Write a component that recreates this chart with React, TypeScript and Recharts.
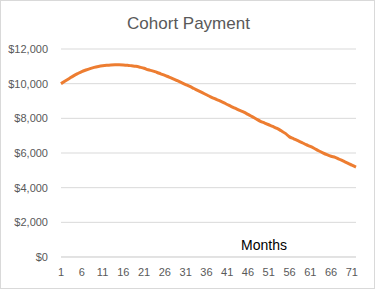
import React from 'react';
import { LineChart, Line, XAxis, YAxis, CartesianGrid } from 'recharts';

// months 1..72 and the payment
const months: number[] = [
  1, 2, 3, 4, 5, 6, 7, 8, 9, 10, 11, 12, 13, 14, 15, 16, 17, 18, 19, 20, 21, 22, 23, 24,
  25, 26, 27, 28, 29, 30, 31, 32, 33, 34, 35, 36, 37, 38, 39, 40, 41, 42, 43, 44, 45, 46, 47, 48,
  49, 50, 51, 52, 53, 54, 55, 56, 57, 58, 59, 60, 61, 62, 63, 64, 65, 66, 67, 68, 69, 70, 71, 72,
];

const payments: number[] = [
  10000, 10150, 10300, 10450, 10580, 10700, 10790, 10870, 10940, 10990, 11030, 11060,
  11080, 11090, 11090, 11080, 11060, 11030, 11000, 10950, 10890, 10800, 10740, 10660,
  10570, 10480, 10380, 10280, 10170, 10060, 9950, 9840, 9720, 9600, 9480, 9360,
  9240, 9130, 9030, 8920, 8800, 8680, 8570, 8460, 8360, 8230, 8100, 7960,
  7830, 7730, 7630, 7530, 7420, 7280, 7130, 6930, 6820, 6710, 6600, 6480,
  6380, 6260, 6130, 6010, 5900, 5810, 5750, 5640, 5530, 5420, 5300, 5190,
];

const yTicks: number[] = [0, 2000, 4000, 6000, 8000, 10000, 12000];

const chartData = months.map((m, i) => ({ month: m, payment: payments[i] }));

const FONT = '"Liberation Sans", Arial, sans-serif';

export default function App() {
  return (
    <div
      style={{
        position: 'absolute',
        left: 0,
        top: 0,
        width: 375,
        height: 289,
        boxSizing: 'border-box',
        border: '1px solid #d9d9d9',
        background: '#fff',
        fontFamily: FONT,
      }}
    >
      <div
        style={{
          position: 'absolute',
          left: 0,
          top: 12,
          width: 375,
          textAlign: 'center',
          fontSize: 17,
          color: '#595959',
          lineHeight: '22px',
        }}
      >
        Cohort Payment
      </div>
      <div style={{ position: 'absolute', left: -1, top: -1 }}>
        <LineChart
          width={375}
          height={289}
          data={chartData}
          margin={{ top: 49, right: 19, bottom: 2, left: 6 }}
        >
          <CartesianGrid horizontal vertical={false} stroke="#d9d9d9" />
          <XAxis
            dataKey="month"
            height={30}
            interval={4}
            tickLine={false}
            tickSize={0}
            tickMargin={11}
            axisLine={{ stroke: '#d9d9d9' }}
            tick={{ fontSize: 11, fill: '#595959', fontFamily: FONT }}
          />
          <YAxis
            width={55}
            domain={[0, 12000]}
            ticks={yTicks}
            tickLine={false}
            axisLine={false}
            tickSize={0}
            tickMargin={13}
            tickFormatter={(v: number) => `$${v.toLocaleString('en-US')}`}
            tick={{ fontSize: 11, fill: '#595959', fontFamily: FONT }}
          />
          <Line
            type="monotone"
            dataKey="payment"
            stroke="#ED7D31"
            strokeWidth={3}
            dot={false}
            isAnimationActive={false}
          />
        </LineChart>
      </div>
      <div
        style={{
          position: 'absolute',
          left: 240,
          top: 235,
          width: 46,
          textAlign: 'center',
          fontSize: 14,
          color: '#000',
          lineHeight: '18px',
        }}
      >
        Months
      </div>
    </div>
  );
}
